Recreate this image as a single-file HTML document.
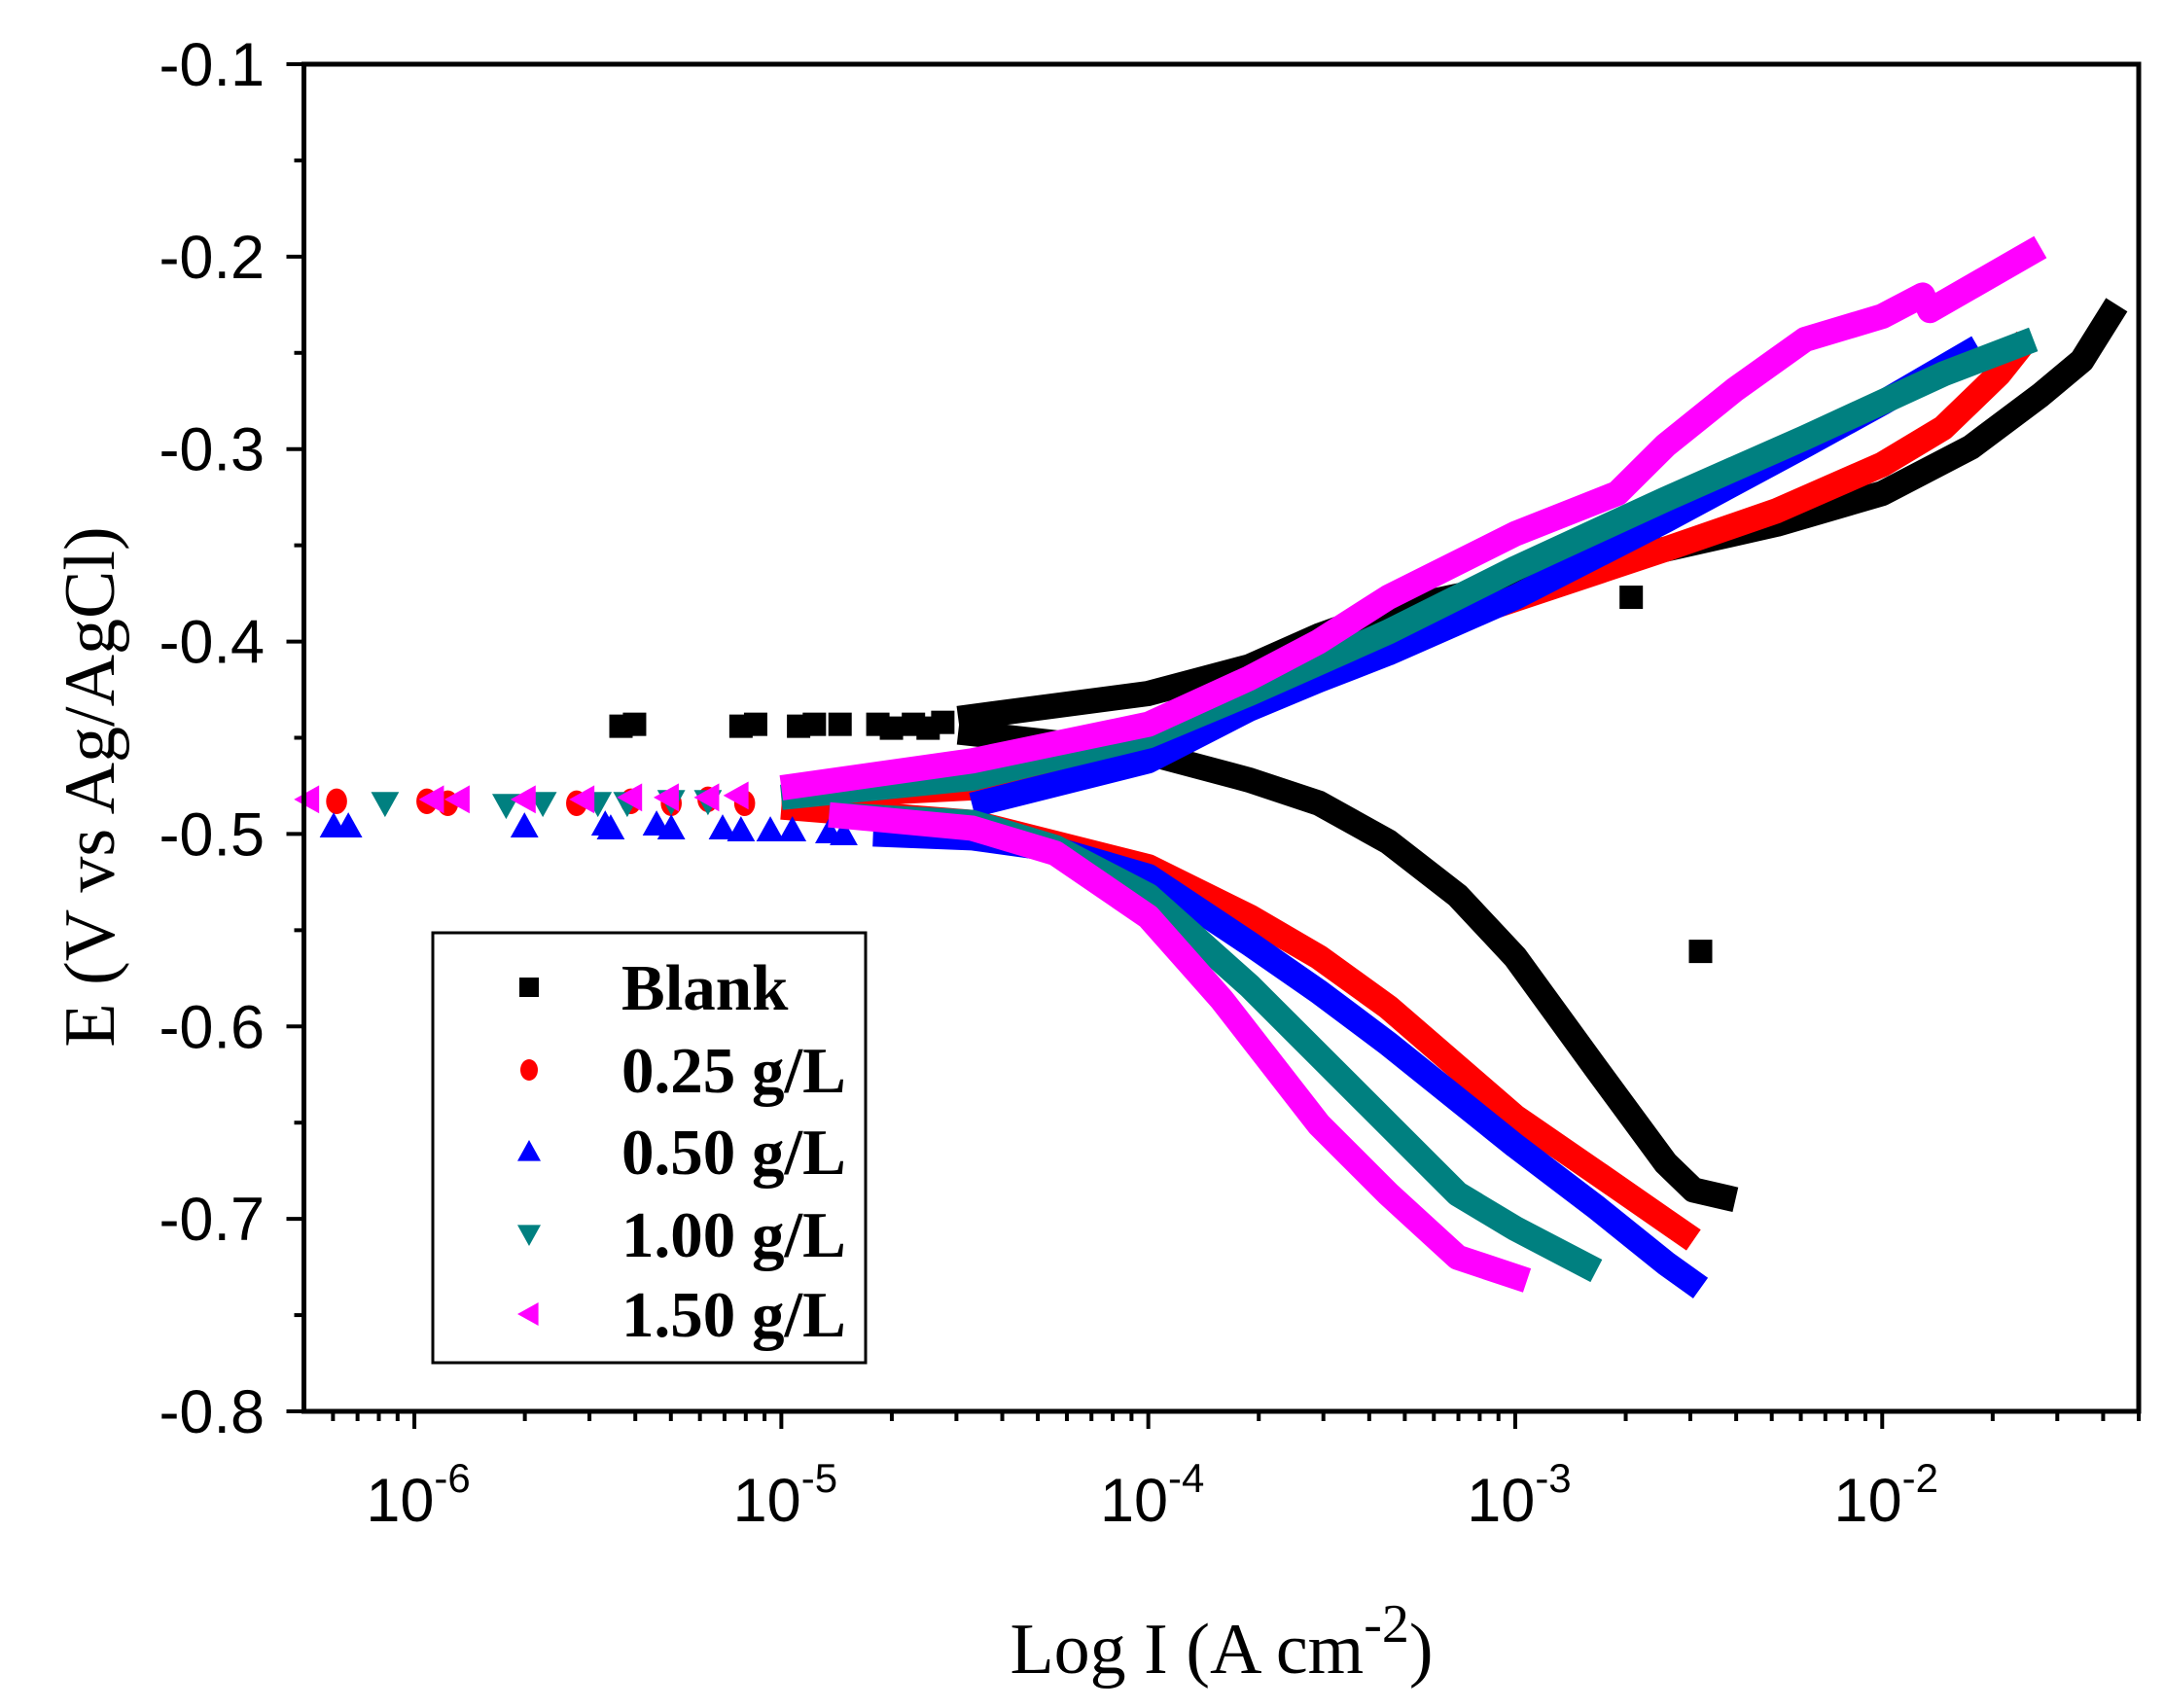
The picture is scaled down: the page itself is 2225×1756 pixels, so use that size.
<!DOCTYPE html>
<html><head><meta charset="utf-8"><style>
html,body{margin:0;padding:0;background:#fff}
svg{display:block}
text{font-family:"Liberation Serif",serif}
.tk{font-family:"Liberation Sans",sans-serif;font-size:63px}
</style></head><body>
<svg id="chart" width="2225" height="1756" viewBox="0 0 2225 1756">
<g id="series"></g>
<rect x="312.5" y="66" width="1886.5" height="1385" fill="none" stroke="#000" stroke-width="5"/>
<g id="axes"></g>
<text x="100" y="809" font-size="74" text-anchor="middle" transform="rotate(-90 100 809)" dominant-baseline="middle">E (V vs Ag/AgCl)</text>
<text x="1256" y="1720" font-size="74" text-anchor="middle">Log I (A cm<tspan dy="-32" font-size="56">-2</tspan><tspan dy="32">)</tspan></text>
<g>
<rect x="445" y="959" width="445" height="442" fill="#fff" stroke="#000" stroke-width="3"/>
<g id="legend-items"></g>
</g>
</svg>
<script>
const NS='http://www.w3.org/2000/svg';
const xMin=-6.301,xMax=-1.301,yMin=-0.8,yMax=-0.1;
const L=312.5,R=2199,T=66,B=1451;
function sx(l){return L+(l-xMin)/(xMax-xMin)*(R-L);}
function sy(e){return B-(e-yMin)/(yMax-yMin)*(B-T);}

const seriesNames=['Blank','0.25 g/L','0.50 g/L','1.00 g/L','1.50 g/L'];
const seriesColors=['#000000','#ff0000','#0000ff','#008080','#ff00ff'];
const seriesShapes=['square','circle','up','down','left'];

const blankAnLog=[-4.518,-4.0,-3.724,-3.535,-3.346,-3.0,-2.59,-2.287,-2.0,-1.758,-1.569,-1.456,-1.361];
const blankAnE=[-0.440,-0.427,-0.413,-0.397,-0.384,-0.370,-0.352,-0.339,-0.323,-0.299,-0.272,-0.254,-0.225];
const blankCaLog=[-4.518,-4.0,-3.724,-3.535,-3.346,-3.157,-3.0,-2.779,-2.59,-2.514,-2.40];
const blankCaE=[-0.447,-0.458,-0.472,-0.484,-0.504,-0.532,-0.564,-0.622,-0.671,-0.685,-0.690];
const blankSpLog=[-5.437,-5.40,-5.11,-5.07,-4.953,-4.91,-4.84,-4.737,-4.70,-4.64,-4.60,-4.56,-2.684,-2.495];
const blankSpE=[-0.444,-0.443,-0.444,-0.443,-0.444,-0.443,-0.443,-0.443,-0.445,-0.443,-0.445,-0.442,-0.377,-0.561];

const r25AnLog=[-5.0,-4.48,-4.0,-3.724,-3.535,-3.346,-3.0,-2.59,-2.287,-2.0,-1.834,-1.682,-1.607];
const r25AnE=[-0.481,-0.476,-0.456,-0.431,-0.417,-0.400,-0.378,-0.352,-0.332,-0.308,-0.289,-0.261,-0.243];
const r25CaLog=[-5.0,-4.48,-4.0,-3.724,-3.535,-3.346,-3.0,-2.779,-2.59,-2.514];
const r25CaE=[-0.486,-0.494,-0.517,-0.543,-0.564,-0.590,-0.647,-0.676,-0.701,-0.711];
const r25SpLog=[-6.212,-5.966,-5.909,-5.558,-5.41,-5.30,-5.20,-5.10];
const r25SpE=[-0.483,-0.483,-0.484,-0.484,-0.483,-0.484,-0.482,-0.484];

const b50AnLog=[-4.48,-4.0,-3.724,-3.535,-3.346,-3.0,-2.59,-2.21,-2.0,-1.739];
const b50AnE=[-0.485,-0.462,-0.435,-0.420,-0.406,-0.377,-0.337,-0.298,-0.276,-0.247];
const b50CaLog=[-4.75,-4.48,-4.253,-4.0,-3.724,-3.535,-3.346,-3.0,-2.779,-2.59,-2.495];
const b50CaE=[-0.500,-0.502,-0.508,-0.522,-0.557,-0.582,-0.609,-0.662,-0.694,-0.723,-0.736];
const b50SpLog=[-6.22,-6.18,-5.70,-5.48,-5.465,-5.34,-5.30,-5.16,-5.11,-5.03,-4.97,-4.87,-4.83];
const b50SpE=[-0.496,-0.496,-0.496,-0.495,-0.497,-0.495,-0.497,-0.497,-0.498,-0.498,-0.498,-0.499,-0.500];

const t100AnLog=[-5.0,-4.48,-4.0,-3.724,-3.346,-3.0,-2.59,-2.21,-1.834,-1.588];
const t100AnE=[-0.481,-0.471,-0.449,-0.427,-0.395,-0.362,-0.326,-0.294,-0.261,-0.243];
const t100CaLog=[-4.87,-4.48,-4.253,-4.0,-3.724,-3.535,-3.346,-3.157,-3.0,-2.779];
const t100CaE=[-0.490,-0.494,-0.507,-0.532,-0.579,-0.615,-0.651,-0.687,-0.705,-0.727];
const t100SpLog=[-6.08,-5.75,-5.65,-5.50,-5.42,-5.30,-5.20];
const t100SpE=[-0.484,-0.485,-0.484,-0.484,-0.484,-0.483,-0.483];

const m150AnLog=[-5.0,-4.48,-4.0,-3.724,-3.535,-3.346,-3.0,-2.722,-2.59,-2.401,-2.21,-2.0,-1.89,-1.87,-1.569];
const m150AnE=[-0.476,-0.462,-0.443,-0.419,-0.400,-0.377,-0.344,-0.323,-0.298,-0.269,-0.243,-0.231,-0.220,-0.228,-0.195];
const m150CaLog=[-4.87,-4.48,-4.253,-4.0,-3.8,-3.535,-3.346,-3.157,-2.968];
const m150CaE=[-0.490,-0.497,-0.510,-0.543,-0.586,-0.651,-0.687,-0.720,-0.732];
const m150SpLog=[-6.29,-5.95,-5.88,-5.70,-5.54,-5.41,-5.31,-5.20,-5.12];
const m150SpE=[-0.482,-0.482,-0.482,-0.482,-0.482,-0.481,-0.481,-0.481,-0.480];

const anLogs=[blankAnLog,r25AnLog,b50AnLog,t100AnLog,m150AnLog];
const anEs=[blankAnE,r25AnE,b50AnE,t100AnE,m150AnE];
const caLogs=[blankCaLog,r25CaLog,b50CaLog,t100CaLog,m150CaLog];
const caEs=[blankCaE,r25CaE,b50CaE,t100CaE,m150CaE];
const spLogs=[blankSpLog,r25SpLog,b50SpLog,t100SpLog,m150SpLog];
const spEs=[blankSpE,r25SpE,b50SpE,t100SpE,m150SpE];

const yTicks=[-0.8,-0.7,-0.6,-0.5,-0.4,-0.3,-0.2,-0.1];
const yTickLabels=['-0.8','-0.7','-0.6','-0.5','-0.4','-0.3','-0.2','-0.1'];
const xDecades=[-6,-5,-4,-3,-2];
const xTickExps=['-6','-5','-4','-3','-2'];

function marker(shape,x,y,s,c){
  let el;
  if(shape==='square'){el=document.createElementNS(NS,'rect');el.setAttribute('x',x-s/2);el.setAttribute('y',y-s/2);el.setAttribute('width',s);el.setAttribute('height',s);}
  else if(shape==='circle'){el=document.createElementNS(NS,'ellipse');el.setAttribute('cx',x);el.setAttribute('cy',y);el.setAttribute('rx',s*0.45);el.setAttribute('ry',s*0.55);}
  else{el=document.createElementNS(NS,'polygon');let h=s*0.6;let p;
    if(shape==='up')p=[[x,y-h],[x+h,y+h*0.8],[x-h,y+h*0.8]];
    else if(shape==='down')p=[[x,y+h],[x+h,y-h*0.8],[x-h,y-h*0.8]];
    else p=[[x-h,y],[x+h*0.8,y-h],[x+h*0.8,y+h]];
    el.setAttribute('points',p.map(q=>q.join(',')).join(' '));}
  el.setAttribute('fill',c);
  return el;
}

const g=document.getElementById('series');
for(let i=0;i<5;i++){
  const c=seriesColors[i];
  const sg=document.createElementNS(NS,'g');
  
  
  [[anLogs[i],anEs[i],'anodic'],[caLogs[i],caEs[i],'cathodic']].forEach(([ls,es,nm])=>{
    const pl=document.createElementNS(NS,'polyline');
    pl.setAttribute('points',ls.map((l,k)=>sx(l)+','+sy(es[k])).join(' '));
    pl.setAttribute('fill','none');pl.setAttribute('stroke',c);pl.setAttribute('stroke-width','26');
    pl.setAttribute('stroke-linejoin','round');pl.setAttribute('stroke-linecap','butt');
    
    
    sg.appendChild(pl);
  });
  spLogs[i].forEach((l,k)=>{
    const m=marker(seriesShapes[i],sx(l),sy(spEs[i][k]),24,c);
    
    
    sg.appendChild(m);
  });
  g.appendChild(sg);
}

const ax=document.getElementById('axes');
function line(x1,y1,x2,y2,w){const l=document.createElementNS(NS,'line');l.setAttribute('x1',x1);l.setAttribute('y1',y1);l.setAttribute('x2',x2);l.setAttribute('y2',y2);l.setAttribute('stroke','#000');l.setAttribute('stroke-width',w);return l;}
yTicks.forEach((v,i)=>{
  const t=line(L-18,sy(v),L,sy(v),4);
  
  
  ax.appendChild(t);
  if(i<yTicks.length-1){const m=line(L-10,sy(v+0.05),L,sy(v+0.05),4);
    
    
    ax.appendChild(m);}
  const tx=document.createElementNS(NS,'text');
  tx.setAttribute('x',272);tx.setAttribute('y',sy(v)+22);tx.setAttribute('text-anchor','end');tx.setAttribute('class','tk');
  tx.textContent=yTickLabels[i];
  
  
  ax.appendChild(tx);
});
for(let d=-7;d<=-2;d++){for(let k=1;k<=9;k++){
  const l=d+Math.log10(k);if(l<xMin||l>xMax)continue;
  const t=line(sx(l),B,sx(l),B+(k===1?18:10),4);
  
  
  ax.appendChild(t);
}}
xDecades.forEach((d,i)=>{
  const tx=document.createElementNS(NS,'text');
  tx.setAttribute('x',sx(d)+4);tx.setAttribute('y',1564);tx.setAttribute('text-anchor','middle');tx.setAttribute('class','tk');
  tx.innerHTML='10<tspan dy="-30" font-size="42">'+xTickExps[i]+'</tspan>';
  
  
  ax.appendChild(tx);
});

const lg=document.getElementById('legend-items');
const rowsY=[1015,1100,1184,1269,1351];
for(let i=0;i<5;i++){
  const m=marker(seriesShapes[i],544,rowsY[i],20,seriesColors[i]);
  
  
  lg.appendChild(m);
  const tx=document.createElementNS(NS,'text');
  tx.setAttribute('x',639);tx.setAttribute('y',rowsY[i]+23);tx.setAttribute('font-size','67');tx.setAttribute('font-weight','bold');
  tx.textContent=seriesNames[i];
  
  
  lg.appendChild(tx);
}
</script>
</body></html>
